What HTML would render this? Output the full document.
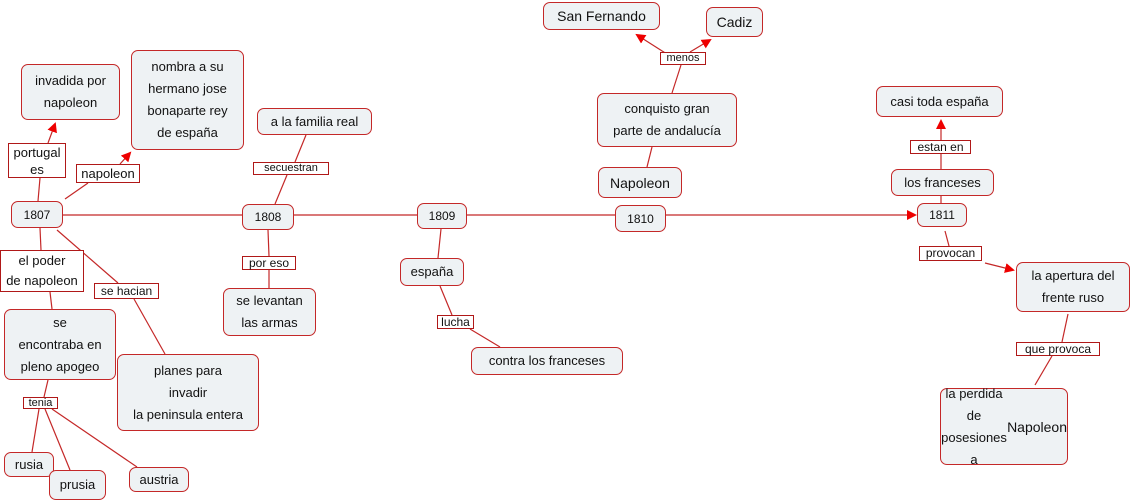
<!DOCTYPE html>
<html><head><meta charset="utf-8"><style>
body{margin:0;width:1133px;height:503px;background:#fff;position:relative;overflow:hidden;font-family:"Liberation Sans",sans-serif;color:#111}
.n{position:absolute;box-sizing:border-box;background:#eef2f4;border:1.3px solid #c42828;border-radius:7px;display:flex;align-items:center;justify-content:center;text-align:center;font-size:13px;line-height:22px}
.l{position:absolute;box-sizing:border-box;background:#fff;border:1.3px solid #b01818;display:flex;align-items:center;justify-content:center;text-align:center;font-size:12px;line-height:15px}
svg{position:absolute;left:0;top:0}
</style></head><body>
<svg width="1133" height="503">
<defs><marker id="a" markerWidth="10" markerHeight="10" refX="8" refY="5" orient="auto" markerUnits="userSpaceOnUse"><path d="M0,0 L10,5 L0,10 z" fill="#e00"/></marker></defs>
<g stroke="#c42828" stroke-width="1.2" fill="none">
<line x1="63" y1="215" x2="915" y2="215" marker-end="url(#a)"/>
<line x1="38" y1="201" x2="40" y2="178"/>
<line x1="48" y1="143" x2="55" y2="124" marker-end="url(#a)"/>
<line x1="65" y1="199" x2="88" y2="183"/>
<line x1="120" y1="164" x2="130" y2="153" marker-end="url(#a)"/>
<line x1="40" y1="228" x2="41" y2="250"/>
<line x1="57" y1="230" x2="118" y2="283"/>
<line x1="134" y1="299" x2="165" y2="354"/>
<line x1="50" y1="292" x2="52" y2="309"/>
<line x1="48" y1="380" x2="44" y2="397"/>
<line x1="39" y1="409" x2="32" y2="452"/>
<line x1="45" y1="409" x2="70" y2="470"/>
<line x1="52" y1="409" x2="137" y2="467"/>
<line x1="306" y1="135" x2="295" y2="162"/>
<line x1="287" y1="175" x2="275" y2="204"/>
<line x1="268" y1="230" x2="269" y2="256"/>
<line x1="269" y1="270" x2="269" y2="288"/>
<line x1="441" y1="229" x2="438" y2="258"/>
<line x1="440" y1="286" x2="452" y2="315"/>
<line x1="470" y1="329" x2="500" y2="347"/>
<line x1="652" y1="147" x2="647" y2="167"/>
<line x1="672" y1="93" x2="681" y2="65"/>
<line x1="670" y1="56" x2="637" y2="35" marker-end="url(#a)"/>
<line x1="690" y1="52" x2="710" y2="40" marker-end="url(#a)"/>
<line x1="941" y1="169" x2="941" y2="154"/>
<line x1="941" y1="140" x2="941" y2="121" marker-end="url(#a)"/>
<line x1="941" y1="196" x2="941" y2="203"/>
<line x1="945" y1="231" x2="949" y2="246"/>
<line x1="985" y1="263" x2="1013" y2="270" marker-end="url(#a)"/>
<line x1="1068" y1="314" x2="1062" y2="342"/>
<line x1="1052" y1="356" x2="1035" y2="385"/>
</g></svg>
<div class="n" style="left:21px;top:64px;width:99px;height:56px">invadida por<br>napoleon</div>
<div class="n" style="left:131px;top:50px;width:113px;height:100px">nombra a su<br>hermano jose<br>bonaparte rey<br>de españa</div>
<div class="n" style="left:257px;top:108px;width:115px;height:27px">a la familia real</div>
<div class="n" style="left:543px;top:2px;width:117px;height:28px;font-size:14px">San Fernando</div>
<div class="n" style="left:706px;top:7px;width:57px;height:30px;font-size:14px">Cadiz</div>
<div class="n" style="left:597px;top:93px;width:140px;height:54px">conquisto gran<br>parte de andalucía</div>
<div class="n" style="left:598px;top:167px;width:84px;height:31px;font-size:14px">Napoleon</div>
<div class="n" style="left:876px;top:86px;width:127px;height:31px">casi toda españa</div>
<div class="n" style="left:891px;top:169px;width:103px;height:27px">los franceses</div>
<div class="n" style="left:11px;top:201px;width:52px;height:27px;font-size:12px">1807</div>
<div class="n" style="left:242px;top:204px;width:52px;height:26px;font-size:12px">1808</div>
<div class="n" style="left:417px;top:203px;width:50px;height:26px;font-size:12px">1809</div>
<div class="n" style="left:615px;top:205px;width:51px;height:27px;font-size:12px">1810</div>
<div class="n" style="left:917px;top:203px;width:50px;height:24px;font-size:12px">1811</div>
<div class="n" style="left:400px;top:258px;width:64px;height:28px">españa</div>
<div class="n" style="left:223px;top:288px;width:93px;height:48px">se levantan<br>las armas</div>
<div class="n" style="left:471px;top:347px;width:152px;height:28px">contra los franceses</div>
<div class="n" style="left:1016px;top:262px;width:114px;height:50px">la apertura del<br>frente ruso</div>
<div class="n" style="left:940px;top:388px;width:128px;height:77px">la perdida<br>de posesiones a<br><span style="font-size:14px">Napoleon</span></div>
<div class="n" style="left:4px;top:309px;width:112px;height:71px">se<br>encontraba en<br>pleno apogeo</div>
<div class="n" style="left:117px;top:354px;width:142px;height:77px">planes para<br>invadir<br>la peninsula entera</div>
<div class="n" style="left:4px;top:452px;width:50px;height:25px">rusia</div>
<div class="n" style="left:49px;top:470px;width:57px;height:30px">prusia</div>
<div class="n" style="left:129px;top:467px;width:60px;height:25px">austria</div>
<div class="l" style="left:8px;top:143px;width:58px;height:35px;line-height:17px;font-size:13px">portugal<br>es</div>
<div class="l" style="left:76px;top:164px;width:64px;height:19px;font-size:13px">napoleon</div>
<div class="l" style="left:0px;top:250px;width:84px;height:42px;line-height:20px;font-size:13px">el poder<br>de napoleon</div>
<div class="l" style="left:94px;top:283px;width:65px;height:16px">se hacian</div>
<div class="l" style="left:253px;top:162px;width:76px;height:13px;font-size:11px">secuestran</div>
<div class="l" style="left:242px;top:256px;width:54px;height:14px">por eso</div>
<div class="l" style="left:437px;top:315px;width:37px;height:14px">lucha</div>
<div class="l" style="left:660px;top:52px;width:46px;height:13px;font-size:11px">menos</div>
<div class="l" style="left:910px;top:140px;width:61px;height:14px">estan en</div>
<div class="l" style="left:919px;top:246px;width:63px;height:15px">provocan</div>
<div class="l" style="left:1016px;top:342px;width:84px;height:14px">que provoca</div>
<div class="l" style="left:23px;top:397px;width:35px;height:12px;font-size:11px">tenia</div>
</body></html>
